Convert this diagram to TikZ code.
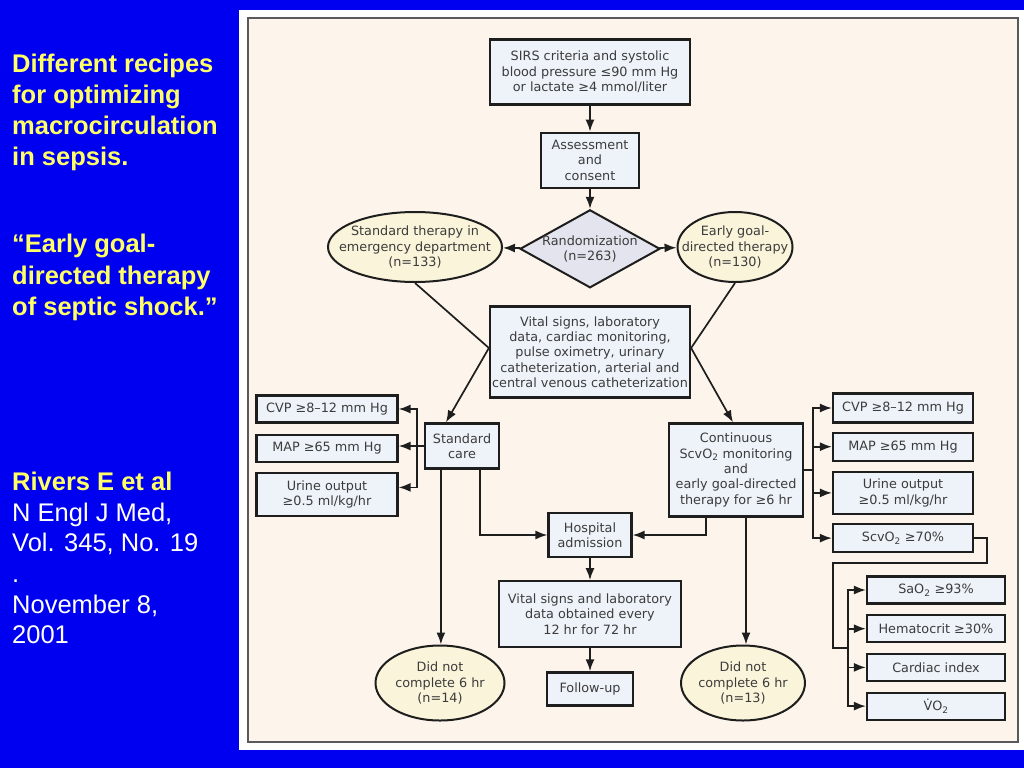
\documentclass[tikz,border=0pt]{standalone}
\usepackage{fontspec}
\setmainfont{Liberation Sans}
\newfontfamily\chartfont{DejaVu Sans}
\usetikzlibrary{positioning}
\usetikzlibrary{shapes.geometric}
\usetikzlibrary{arrows.meta}
\definecolor{slideblue}{RGB}{0,0,240}
\definecolor{titleyellow}{RGB}{255,255,102}
\definecolor{panelbeige}{RGB}{253,245,235}
\definecolor{boxfill}{RGB}{238,243,250}
\definecolor{ovalfill}{RGB}{250,245,218}
\definecolor{randfill}{RGB}{228,228,238}
\definecolor{ink}{RGB}{30,30,30}
\definecolor{chartgray}{RGB}{60,60,60}

\begin{document}
\begin{tikzpicture}[
    x=1pt,y=-1pt,
    slide/.style={anchor=north west,inner sep=0pt,align=left,font=\fontsize{25.5}{31}\selectfont},
    box/.style={rectangle,draw=ink,line width=2.2pt,fill=boxfill,text=chartgray,align=center,inner sep=2pt,font=\chartfont\fontsize{12.8}{15.3}\selectfont},
    sbox/.style={box,minimum width=141pt,minimum height=27pt},
    rbox/.style={box,minimum width=140pt,minimum height=28pt},
    obox/.style={box,minimum width=138pt,minimum height=27pt},
    oval/.style={ellipse,draw=ink,line width=2pt,fill=ovalfill,text=chartgray,align=center,inner sep=-15pt,font=\chartfont\fontsize{12.8}{15.3}\selectfont},
    randbox/.style={diamond,aspect=1.8,draw=ink,line width=2pt,fill=randfill,text=chartgray,align=center,inner sep=-12pt,minimum width=140pt,minimum height=78pt,font=\chartfont\fontsize{12.8}{15.3}\selectfont},
    conn/.style={draw=ink,line width=1.7pt},
    arr/.style={conn,-{Latex[length=12pt,width=9pt]}}
    ]
    \useasboundingbox (0,0) rectangle (1024,768);
    \fill[slideblue] (0,0) rectangle (1024,768);
    \fill[white] (239,10) rectangle (1024,750);
    \filldraw[fill=panelbeige,draw=black!65,line width=1.3pt] (248,18) rectangle (1018,742);

    \node (heading) [slide,font=\bfseries\fontsize{25.5}{31}\selectfont,text=titleyellow] at (12,54) {Different recipes\\for optimizing\\macrocirculation\\in sepsis.};
    \node (papertitle) [slide,font=\bfseries\fontsize{25.5}{31.5}\selectfont,text=titleyellow] at (12,234) {“Early goal-\\directed therapy\\of septic shock.”};
    \node (citation) [slide,font=\fontsize{25.5}{30.6}\selectfont,text=white] at (12,472) {{\bfseries\color{titleyellow}Rivers E et al}\\N Engl J Med,\\Vol. 345, No. 19\\.\\November 8,\\2001};

    \node (sirs) [box,minimum width=200pt,minimum height=65pt] at (590,72) {SIRS criteria and systolic\\blood pressure ≤90 mm Hg\\or lactate ≥4 mmol/liter};
    \node (assess) [box,minimum width=98pt,minimum height=55pt,below=26pt of sirs] {Assessment\\and\\consent};
    \node (rand) [randbox,below=20pt of assess] {Randomization\\(n=263)};
    \node (stdther) [oval,minimum width=174pt,minimum height=70pt] at (415,247) {Standard therapy in\\emergency department\\(n=133)};
    \node (egdt) [oval,minimum width=115pt,minimum height=70pt] at (735,247) {Early goal-\\directed therapy\\(n=130)};
    \node (vital) [box,minimum width=200pt,minimum height=91pt] at (590,352) {Vital signs, laboratory\\data, cardiac monitoring,\\pulse oximetry, urinary\\catheterization, arterial and\\central venous catheterization};

    \node (stdcare) [box,minimum width=74pt,minimum height=45pt] at (462,446) {Standard\\care};
    \node (lcvp) [sbox] at (327,409) {CVP ≥8–12 mm Hg};
    \node (lmap) [sbox,below=10pt of lcvp] {MAP ≥65 mm Hg};
    \node (lurine) [sbox,minimum height=43pt,below=9pt of lmap] {Urine output\\≥0.5 ml/kg/hr};

    \node (scvo) [box,minimum width=134pt,minimum height=93pt] at (736,470) {Continuous\\ScvO\textsubscript{2} monitoring\\and\\early goal-directed\\therapy for ≥6 hr};
    \node (rcvp) [rbox,minimum height=29pt] at (903,408) {CVP ≥8–12 mm Hg};
    \node (rmap) [rbox,below=8pt of rcvp] {MAP ≥65 mm Hg};
    \node (rurine) [rbox,minimum height=42pt,below=9pt of rmap] {Urine output\\≥0.5 ml/kg/hr};
    \node (rscv) [rbox,below=8pt of rurine] {ScvO\textsubscript{2} ≥70\%};

    \node (sao2) [obox] at (936,590) {SaO\textsubscript{2} ≥93\%};
    \node (hemat) [obox,below=9.5pt of sao2] {Hematocrit ≥30\%};
    \node (cardiac) [obox,below=9.5pt of hemat] {Cardiac index};
    \node (vo2) [obox,below=9.5pt of cardiac] {\.{V}O\textsubscript{2}};

    \node (hosp) [box,minimum width=83pt,minimum height=44pt] at (590,535) {Hospital\\admission};
    \node (vital2) [box,minimum width=182pt,minimum height=66pt,below=22pt of hosp] {Vital signs and laboratory\\data obtained every\\12 hr for 72 hr};
    \node (follow) [box,minimum width=86pt,minimum height=33pt,below=23pt of vital2] {Follow-up};
    \node (ldnc) [oval,minimum width=129pt,minimum height=75pt] at (440,683) {Did not\\complete 6 hr\\(n=14)};
    \node (rdnc) [oval,minimum width=124pt,minimum height=75pt] at (743,683) {Did not\\complete 6 hr\\(n=13)};

    \coordinate (lsplit) at (417,446);
    \coordinate (rsplit) at (813,470);
    \coordinate (loopcorner) at (987,563);
    \coordinate (o2split) at (848,648);

    \draw[arr] (sirs) -- (assess);
    \draw[arr] (assess) -- (rand);
    \draw[arr] (rand) -- (stdther);
    \draw[arr] (rand) -- (egdt);
    \draw[conn] (stdther.south) -- ([yshift=4pt]vital.west);
    \draw[arr] ([yshift=4pt]vital.west) -- ([xshift=22pt]stdcare.north west);
    \draw[conn] (egdt.south) -- ([yshift=4pt]vital.east);
    \draw[arr] ([yshift=4pt]vital.east) -- ([xshift=-3pt]scvo.north);

    \draw[arr] (stdcare.west) -- (stdcare.west -| lmap.east);
    \draw[arr] (lsplit) |- (lcvp.east);
    \draw[arr] (lsplit) |- ([yshift=7pt]lurine.east);

    \draw[conn] (scvo.east) -- (rsplit);
    \draw[arr] (rsplit) |- (rcvp.west);
    \draw[arr] (rsplit) |- (rmap.west);
    \draw[arr] (rsplit) |- (rurine.west);
    \draw[arr] (rsplit) |- (rscv.west);

    \draw[conn] (rscv.east) -| (loopcorner) -| ([xshift=-15pt]o2split) -- (o2split);
    \draw[arr] (o2split) |- (sao2.west);
    \draw[arr] (o2split) |- (hemat.west);
    \draw[arr] (o2split) |- (cardiac.west);
    \draw[arr] (o2split) |- (vo2.west);

    \draw[arr] ([xshift=17pt]stdcare.south west) -- ([xshift=17pt]stdcare.south west |- ldnc.north);
    \draw[arr] ([xshift=-20pt]stdcare.south east) |- (hosp.west);
    \draw[arr] ([xshift=-30pt]scvo.south) |- (hosp.east);
    \draw[arr] ([xshift=10pt]scvo.south) -- ([xshift=10pt]scvo.south |- rdnc.north);
    \draw[arr] (hosp) -- (vital2);
    \draw[arr] (vital2) -- (follow);
\end{tikzpicture}
\end{document}
